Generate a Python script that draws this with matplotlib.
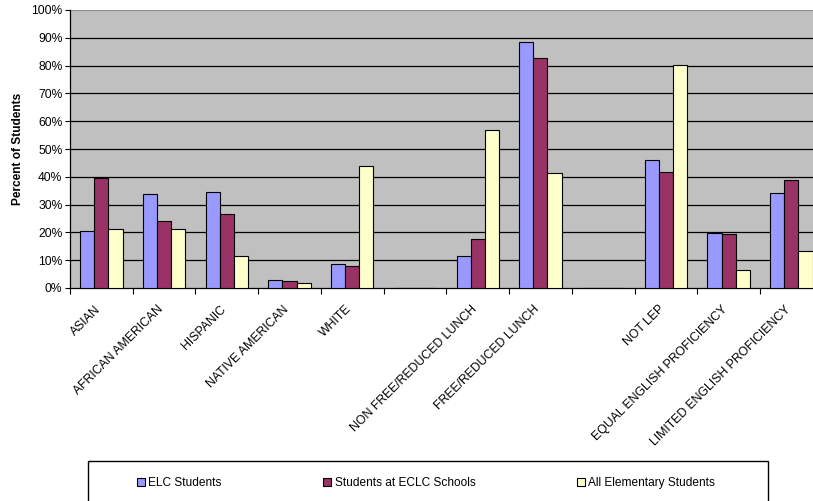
import numpy as np
import matplotlib
matplotlib.use("Agg")
import matplotlib.pyplot as plt
import matplotlib.transforms as mtransforms
from matplotlib.patches import Patch, Rectangle

plt.rcParams['font.family'] = ['Liberation Sans', 'DejaVu Sans']

categories = ["ASIAN", "AFRICAN AMERICAN", "HISPANIC", "NATIVE AMERICAN", "WHITE", "",
              "NON FREE/REDUCED LUNCH", "FREE/REDUCED LUNCH", "",
              "NOT LEP", "EQUAL ENGLISH PROFICIENCY", "LIMITED ENGLISH PROFICIENCY"]
elc = [20.5, 33.7, 34.5, 2.8, 8.6, None, 11.4, 88.6, None, 45.9, 19.9, 34.2]
eclc = [39.5, 24.0, 26.6, 2.4, 7.8, None, 17.5, 82.6, None, 41.6, 19.3, 38.8]
all_elem = [21.1, 21.3, 11.6, 1.9, 43.8, None, 56.7, 41.4, None, 80.1, 6.5, 13.4]
series_names = ["ELC Students", "Students at ECLC Schools", "All Elementary Students"]
colors = ["#9999FF", "#993366", "#FFFFCC"]
yticks = [0, 10, 20, 30, 40, 50, 60, 70, 80, 90, 100]

W, H = 813, 501
fig = plt.figure(figsize=(W / 100, H / 100), dpi=100)
ax = fig.add_axes([70 / W, 1 - 288 / H, 752.7 / W, 278 / H])
ax.set_facecolor("#C0C0C0")

x = np.arange(len(categories))
bw = 0.225
for i, (vals, c) in enumerate(zip([elc, eclc, all_elem], colors)):
    v = np.array([np.nan if a is None else a for a in vals], dtype=float)
    ax.bar(x + (i - 1) * bw, np.nan_to_num(v, nan=0.0), width=bw, color=c,
           edgecolor="black", linewidth=0.8, zorder=3,
           label=series_names[i])

ax.set_xlim(-0.5, len(categories) - 0.5)
ax.set_ylim(0, 100)
ax.set_yticks(yticks)
ax.set_yticklabels([f"{t}%" for t in yticks], fontsize=8.7)
for t in yticks[1:-1]:
    ax.axhline(t, color="black", linewidth=0.9, zorder=1)
ax.axhline(100, color="#808080", linewidth=1.2, zorder=1)

ax.set_xticks(x)
ax.set_xticklabels(categories, rotation=45, ha="right", va="center",
                   rotation_mode="anchor", fontsize=8.8)
ax.tick_params(axis="x", which="major", length=0, pad=14)
shift = mtransforms.ScaledTranslation(-3 / 100, 0, fig.dpi_scale_trans)
for lab in ax.get_xticklabels():
    lab.set_transform(lab.get_transform() + shift)
ax.set_xticks(np.arange(-0.5, len(categories) + 0.5, 1), minor=True)
ax.tick_params(axis="x", which="minor", length=4, width=0.8, direction="out")
ax.tick_params(axis="y", length=3.5, width=0.8, direction="out", pad=2)

for s in ["top", "right"]:
    ax.spines[s].set_visible(False)
ax.spines["left"].set_color("black")
ax.spines["bottom"].set_color("black")
ax.spines["left"].set_linewidth(0.9)
ax.spines["bottom"].set_linewidth(0.9)

ax.set_ylabel("Percent of Students", fontsize=8.6, fontweight="bold")
ax.yaxis.set_label_coords((24 - 70) / 752.7, 0.5)

# legend frame
fig.patches.append(Rectangle((88 / W, -0.05), (768 - 88) / W, (1 - 461 / H) + 0.05,
                             transform=fig.transFigure, facecolor="white",
                             edgecolor="black", linewidth=1.0, zorder=0))
handles = [Patch(facecolor=c, edgecolor="black", linewidth=0.8) for c in colors]
fig.legend(handles, series_names, loc="center left",
           bbox_to_anchor=(137 / W, 1 - 483 / H), ncol=3, frameon=False,
           fontsize=8.6, handlelength=0.65, handleheight=0.65,
           handletextpad=0.3, columnspacing=8.5, borderpad=0, borderaxespad=0)

fig.savefig("out.png", dpi=100)
